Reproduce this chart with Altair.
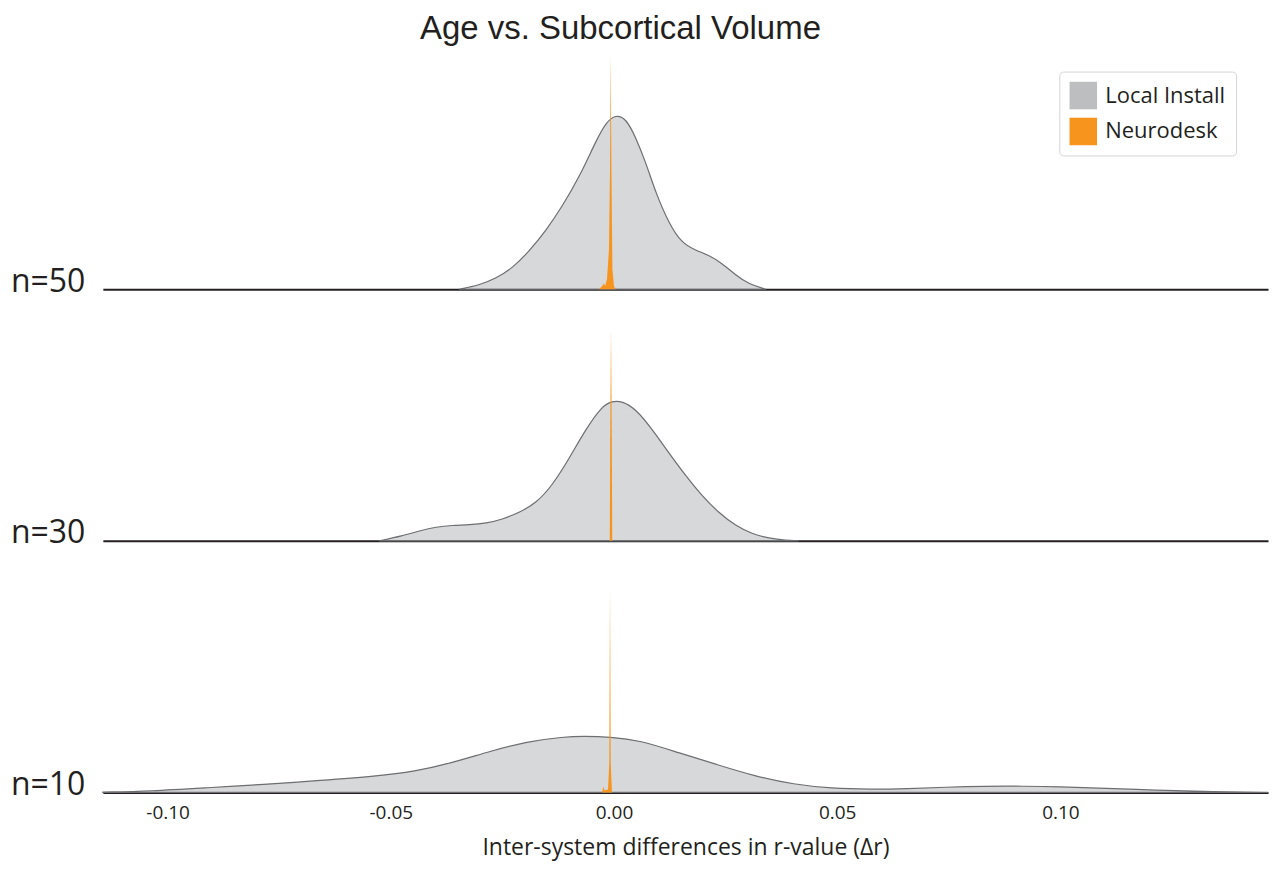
import altair as alt
import pandas as pd

# ---------------- data ----------------
rows = ["n=50", "n=30", "n=10"]
systems = ["Local Install", "Neurodesk"]
colors = ["#bcbec0", "#f7941d"]
tick_values = [-0.10, -0.05, 0.00, 0.05, 0.10]

# Local Install densities
local50_x = [-0.0347, -0.0302, -0.0264, -0.0228, -0.0190, -0.0152, -0.0116, -0.0078, -0.0040, -0.0018,
             0.0004, 0.0027, 0.0049, 0.0072, 0.0094, 0.0123, 0.0152, 0.0183, 0.0213, 0.0242,
             0.0273, 0.0302, 0.0340]
local50_d = [0.0, 0.8, 2.2, 4.2, 7.6, 11.8, 16.6, 22.4, 29.8, 33.4,
             35.0, 34.2, 30.4, 25.2, 19.2, 13.2, 9.2, 7.8, 6.8, 5.2,
             2.8, 1.0, 0.0]

local30_x = [-0.0526, -0.0474, -0.0436, -0.0398, -0.0362, -0.0324, -0.0286, -0.0251, -0.0213, -0.0174,
             -0.0139, -0.0101, -0.0063, -0.0027, -0.0004, 0.0018, 0.0049, 0.0085, 0.0123, 0.0161,
             0.0197, 0.0235, 0.0273, 0.0309, 0.0347, 0.0385, 0.0414]
local30_d = [0.0, 1.0, 2.0, 2.8, 3.1, 3.2, 3.5, 4.3, 5.6, 7.6,
             11.0, 16.4, 22.4, 27.0, 28.0, 28.0, 26.4, 22.4, 17.6, 13.0,
             9.0, 5.6, 3.0, 1.4, 0.5, 0.06, 0.0]

local10_x = [-0.1145, -0.1038, -0.0911, -0.0785, -0.0658, -0.0532, -0.0447, -0.0362, -0.0280, -0.0195,
             -0.0112, -0.0069, -0.0009, 0.0058, 0.0145, 0.0230, 0.0315, 0.0403, 0.0488, 0.0573,
             0.0658, 0.0743, 0.0830, 0.0915, 0.1000, 0.1085, 0.1170, 0.1257, 0.1342, 0.1427, 0.1465]
local10_d = [0.06, 0.26, 0.94, 1.6, 2.4, 3.26, 4.2, 5.94, 8.2, 10.2,
             11.14, 11.26, 11.14, 10.46, 7.94, 5.6, 3.26, 1.6, 0.8, 0.6,
             0.74, 1.06, 1.26, 1.26, 1.14, 0.86, 0.6, 0.34, 0.14, 0.06, 0.0]

# Neurodesk densities (very narrow spikes just left of zero)
neuro50_x = [-0.00336, -0.00268, -0.00224, -0.00201, -0.00157, -0.00112, -0.00089, -0.00074,
             -0.00058, -0.00036, 0.0, 0.00034]
neuro50_d = [0.0, 0.6, 1.2, 0.6, 2.0, 8.0, 24.0, 47.2, 24.0, 4.0, 0.6, 0.0]

neuro30_x = [-0.00094, -0.00085, -0.00067, -0.00049, -0.00040]
neuro30_d = [0.0, 20.0, 42.4, 20.0, 0.0]

neuro10_x = [-0.00268, -0.00235, -0.00213, -0.00134, -0.00105, -0.00089, -0.00074, -0.00045]
neuro10_d = [0.0, 1.2, 0.4, 0.6, 6.0, 41.0, 6.0, 0.0]

series = {
    ("n=50", "Local Install"): (local50_x, local50_d),
    ("n=30", "Local Install"): (local30_x, local30_d),
    ("n=10", "Local Install"): (local10_x, local10_d),
    ("n=50", "Neurodesk"): (neuro50_x, neuro50_d),
    ("n=30", "Neurodesk"): (neuro30_x, neuro30_d),
    ("n=10", "Neurodesk"): (neuro10_x, neuro10_d),
}

recs = []
for (row, sysname), (xs, ds) in series.items():
    for xv, dv in zip(xs, ds):
        recs.append({"row": row, "system": sysname, "r": xv, "density": dv})
df = pd.DataFrame(recs)

# ---------------- layout / style ----------------
FONT = "Open Sans"
TITLE_FONT = "Liberation Sans"
INK = "#231f20"
W = 1167
PX_PER_UNIT = 5.0
XDOM = [-0.1145, 0.1465]
heights = {"n=50": 239, "n=30": 252, "n=10": 252}

color = alt.Color(
    "system:N",
    scale=alt.Scale(domain=systems, range=colors),
    legend=alt.Legend(
        title=None, orient="none", legendX=958, legendY=21,
        symbolType="square", symbolSize=760, symbolStrokeWidth=0, symbolOpacity=1,
        labelFont=FONT, labelFontSize=22, labelColor=INK, labelOffset=8,
        rowPadding=8, padding=10, fillColor="white", strokeColor="#d4d4d4",
        cornerRadius=4,
    ),
)


def panel(row, bottom):
    h = heights[row]
    if bottom:
        xaxis = alt.Axis(
            values=tick_values,
            labelExpr="(datum.value < 0 ? '-' : '') + format(abs(datum.value), '.2f')",
            labelFont=FONT, labelFontSize=19, labelColor=INK, labelPadding=11,
            labelFlush=False, ticks=False, grid=False,
            domain=True, domainColor=INK, domainWidth=2,
            title="Inter-system differences in r-value (\u0394r)",
            titleFont=FONT, titleFontSize=23, titleFontWeight="normal",
            titleColor=INK, titlePadding=14,
        )
    else:
        xaxis = alt.Axis(labels=False, ticks=False, grid=False, title=None,
                         domain=True, domainColor=INK, domainWidth=2)
    x = alt.X("r:Q", scale=alt.Scale(domain=XDOM, nice=False, zero=False), axis=xaxis)
    y = alt.Y(
        "density:Q",
        scale=alt.Scale(domain=[0, h / PX_PER_UNIT], nice=False),
        axis=alt.Axis(
            title=row, titleAngle=0, titleAlign="right", titleBaseline="alphabetic",
            titleX=-18, titleY=h + 2, titleFont=FONT, titleFontSize=32,
            titleFontWeight="normal", titleColor=INK,
            labels=False, ticks=False, domain=False, grid=False,
        ),
    )
    base = alt.Chart(df).transform_filter(alt.datum.row == row)
    gray = base.transform_filter(alt.datum.system == "Local Install").mark_area(
        interpolate="basis", fillOpacity=0.6, stroke="#6d6e71", strokeWidth=1.2
    ).encode(x=x, y=y, color=color)
    orange = base.transform_filter(alt.datum.system == "Neurodesk").mark_area(
        interpolate="linear", fillOpacity=1
    ).encode(x=x, y=y, color=color)
    return alt.layer(gray, orange).properties(width=W, height=h)


chart = alt.vconcat(
    panel("n=50", False), panel("n=30", False), panel("n=10", True),
    spacing=0, bounds="flush",
).properties(
    title=alt.TitleParams(
        "Age vs. Subcortical Volume", font=TITLE_FONT, fontSize=33, fontWeight="normal",
        color=INK, anchor="middle", dx=-20, offset=5,
    ),
    padding={"left": 2, "top": 4, "right": 0, "bottom": 2},
).configure_view(strokeWidth=0, stroke="transparent")

chart.save("out.html", embed_options={"renderer": "svg", "actions": False})
